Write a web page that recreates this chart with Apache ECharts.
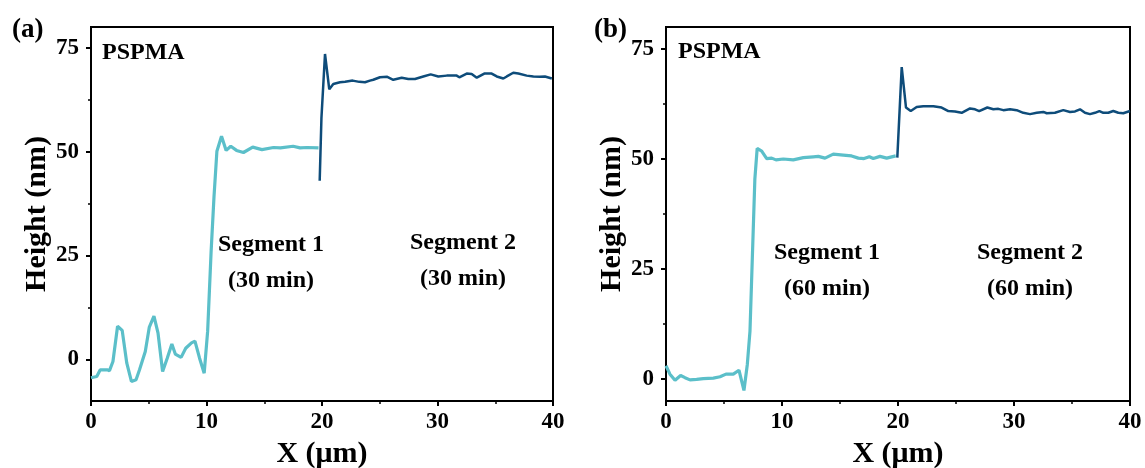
<!DOCTYPE html>
<html><head><meta charset="utf-8">
<script src="https://cdn.jsdelivr.net/npm/echarts@6/dist/echarts.min.js"></script>
<style>html,body{margin:0;padding:0;background:#fff}#c{width:1145px;height:468px}</style>
</head><body><div id="c"></div>
<script>
// ---- data ----
const xTicks = [0, 10, 20, 30, 40];
const yTicks = [0, 25, 50, 75];
const yMinorTicks = [12.5, 37.5, 62.5];
// panel (a): 30 min segments
const aSeg1 = [[0,-4.4],[0.5,-4.1],[0.8,-2.5],[1.4,-2.5],[1.6,-2.7],[1.9,-0.5],[2.3,8],[2.7,7],[3.1,-0.9],[3.5,-5.3],[3.9,-4.9],[4.2,-2.5],[4.7,1.9],[5.05,7.8],[5.45,10.4],[5.8,6.4],[6.2,-2.9],[6.6,0.3],[7.0,3.7],[7.3,1.3],[7.8,0.5],[8.2,2.7],[8.7,4.0],[9.0,4.4],[9.4,0.3],[9.8,-3.3],[10.1,6.8],[10.4,26],[10.65,39.2],[10.9,50.1],[11.3,53.7],[11.7,50.3],[12.1,51.3],[12.6,50.3],[13.2,49.8],[14.0,51.1],[14.8,50.5],[15.8,51.0],[16.4,50.9],[17.5,51.3],[18.1,50.9],[18.7,51.0],[19.7,50.9]];
const aSeg2 = [[19.8,43],[19.95,58],[20.26,73.5],[20.63,65],[20.98,66.3],[21.56,66.7],[22.0,66.8],[22.66,67.1],[23.23,66.8],[23.72,66.7],[24.15,67.1],[24.44,67.3],[25.02,67.9],[25.65,68],[26.17,67.3],[26.9,67.8],[27.47,67.5],[28.05,67.5],[28.77,68.1],[29.41,68.6],[30.07,68.1],[30.8,68.3],[31.66,68.3],[31.89,67.9],[32.53,68.8],[32.96,68.7],[33.4,67.8],[34.05,68.8],[34.69,68.8],[35.13,68.1],[35.7,67.6],[36.0,68.1],[36.56,69.0],[37.0,68.8],[37.72,68.3],[38.3,68.1],[38.87,68],[39.3,68.1],[39.9,67.6]];
// panel (b): 60 min segments
const bSeg1 = [[0,3.0],[0.34,1.1],[0.78,-0.3],[1.26,0.8],[1.64,0.3],[2.07,-0.2],[2.64,-0.1],[3.22,0.1],[4.08,0.2],[4.66,0.5],[5.17,1.1],[5.8,1.1],[6.29,2.0],[6.72,-2.6],[7.01,3.3],[7.24,10.9],[7.66,45.4],[7.86,52.4],[8.25,51.8],[8.68,50.1],[9.11,50.2],[9.48,49.8],[10.11,50],[10.97,49.8],[11.84,50.3],[12.7,50.5],[13.13,50.6],[13.71,50.2],[14.42,51.1],[15.28,50.9],[16.0,50.7],[16.58,50.2],[17.07,50.1],[17.53,50.5],[17.87,50.1],[18.45,50.6],[19.02,50.2],[19.8,50.7]];
const bSeg2 = [[19.94,50.3],[20.32,70.9],[20.69,61.7],[21.1,60.9],[21.61,61.8],[22.18,62.0],[23.05,62.0],[23.76,61.7],[24.34,60.9],[24.91,60.8],[25.49,60.5],[26.21,61.5],[26.64,61.3],[27.0,60.9],[27.7,61.7],[28.22,61.3],[28.65,61.4],[29.08,61.1],[29.66,61.3],[30.23,61.1],[30.8,60.5],[31.38,60.2],[31.96,60.5],[32.53,60.7],[32.82,60.4],[33.53,60.5],[34.25,61.1],[34.83,60.7],[35.26,60.8],[35.69,61.3],[36.12,60.5],[36.55,60.2],[36.98,60.5],[37.36,60.9],[37.7,60.5],[38.13,60.5],[38.56,60.9],[38.99,60.5],[39.42,60.4],[40.0,60.9]];
const panelLabels = ['(a)', '(b)'];
const sampleName = 'PSPMA';
const segLabelsA = ['Segment 1\n(30 min)', 'Segment 2\n(30 min)'];
const segLabelsB = ['Segment 1\n(60 min)', 'Segment 2\n(60 min)'];
const xName = 'X (\u03bcm)';
const yName = 'Height (nm)';
const yRangeA = [-10, 80];
const yRangeB = [-5, 80];

// ---- styling ----
const FONT = '"Liberation Serif", "Times New Roman", serif';
const C1 = '#5BBFC9', C2 = '#0E4C7A';
const txt = (size) => ({ fontFamily: FONT, fontWeight: 'bold', fontSize: size, color: '#000' });

function xAxisCfg(gi) {
  return {
    type: 'value', gridIndex: gi, min: 0, max: 40, interval: 10,
    name: xName, nameLocation: 'middle', nameGap: 35,
    nameTextStyle: txt(30),
    axisLine: { show: true, onZero: false, lineStyle: { color: '#000', width: 2 } },
    axisTick: { show: true, length: 5, lineStyle: { color: '#000', width: 2 } },
    minorTick: { show: true, splitNumber: 2, length: 3, lineStyle: { color: '#000', width: 1.5 } },
    axisLabel: Object.assign({ margin: 10, customValues: xTicks }, txt(23)),
    splitLine: { show: false }
  };
}
function yAxisCfg(gi, range) {
  return {
    type: 'value', gridIndex: gi, min: range[0], max: range[1], position: 'left',
    name: yName, nameLocation: 'middle', nameGap: 39,
    nameTextStyle: txt(30),
    axisLine: { show: true, onZero: false, lineStyle: { color: '#000', width: 2 } },
    axisTick: { show: true, length: 5, customValues: yTicks, lineStyle: { color: '#000', width: 2 } },
    axisLabel: Object.assign({ margin: 12, customValues: yTicks }, txt(23)),
    splitLine: { show: false }
  };
}
function yMinorCfg(gi, range) {
  return {
    type: 'value', gridIndex: gi, min: range[0], max: range[1], position: 'left',
    axisLine: { show: false, onZero: false },
    axisTick: { show: true, length: 3, customValues: yMinorTicks, lineStyle: { color: '#000', width: 1.5 } },
    axisLabel: { show: false },
    splitLine: { show: false }
  };
}
function lineSeries(data, xi, yi, color, w) {
  return {
    type: 'line', data: data, xAxisIndex: xi, yAxisIndex: yi,
    showSymbol: false, symbol: 'none', smooth: false, silent: true,
    lineStyle: { color: color, width: w }, z: 3
  };
}
function label(x, y, s, size, align, lh) {
  return { type: 'text', x: x, y: y, style: { text: s, font: 'bold ' + size + 'px ' + FONT, fill: '#000', align: align, verticalAlign: 'middle', lineHeight: lh || size } };
}

const chart = echarts.init(document.getElementById('c'), null, { renderer: 'canvas' });
chart.setOption({
  backgroundColor: '#fff',
  animation: false,
  grid: [
    { left: 91, right: 592, top: 27, bottom: 67, show: true, borderColor: '#000', borderWidth: 2, backgroundColor: 'transparent', containLabel: false, outerBoundsMode: 'none' },
    { left: 666, right: 15, top: 27, bottom: 67, show: true, borderColor: '#000', borderWidth: 2, backgroundColor: 'transparent', containLabel: false, outerBoundsMode: 'none' }
  ],
  xAxis: [xAxisCfg(0), xAxisCfg(1)],
  yAxis: [yAxisCfg(0, yRangeA), yMinorCfg(0, yRangeA), yAxisCfg(1, yRangeB), yMinorCfg(1, yRangeB)],
  series: [
    lineSeries(aSeg1, 0, 0, C1, 3.2),
    lineSeries(aSeg2, 0, 0, C2, 2.5),
    lineSeries(bSeg1, 1, 2, C1, 3.2),
    lineSeries(bSeg2, 1, 2, C2, 2.5)
  ],
  graphic: [
    label(12, 30, panelLabels[0], 27, 'left'),
    label(594, 30, panelLabels[1], 27, 'left'),
    label(102, 53, sampleName, 24, 'left'),
    label(678, 52, sampleName, 24, 'left'),
    label(271, 263, segLabelsA[0], 24, 'center', 36),
    label(463, 261, segLabelsA[1], 24, 'center', 36),
    label(827, 271, segLabelsB[0], 24, 'center', 36),
    label(1030, 271, segLabelsB[1], 24, 'center', 36)
  ]
});
</script></body></html>
